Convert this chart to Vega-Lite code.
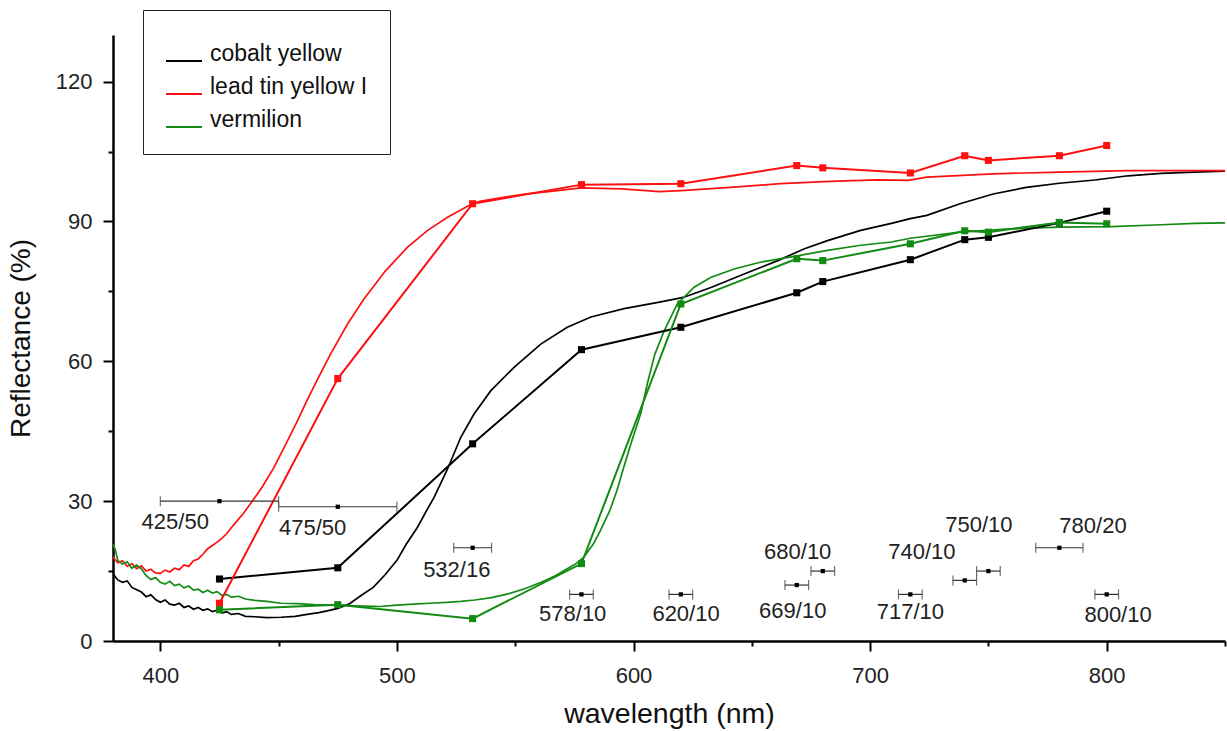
{
  "$schema": "https://vega.github.io/schema/vega-lite/v6.json",
  "autosize": "none",
  "width": 1112,
  "height": 606,
  "padding": {"left": 113, "top": 35, "right": 2, "bottom": 90},
  "background": "white",
  "config": {
    "view": {"stroke": null},
    "font": "Liberation Sans"
  },
  "datasets": {
    "spectra": [
      {"pigment":"cobalt yellow","nm":380,"r":14.4},{"pigment":"cobalt yellow","nm":382,"r":13.1},{"pigment":"cobalt yellow","nm":384,"r":12.6},{"pigment":"cobalt yellow","nm":386,"r":12.9},{"pigment":"cobalt yellow","nm":388,"r":11.5},{"pigment":"cobalt yellow","nm":390,"r":11.0},{"pigment":"cobalt yellow","nm":392,"r":10.5},{"pigment":"cobalt yellow","nm":394,"r":9.5},{"pigment":"cobalt yellow","nm":396,"r":9.9},{"pigment":"cobalt yellow","nm":398,"r":8.9},{"pigment":"cobalt yellow","nm":400,"r":8.3},{"pigment":"cobalt yellow","nm":402,"r":8.8},{"pigment":"cobalt yellow","nm":404,"r":7.9},{"pigment":"cobalt yellow","nm":406,"r":7.7},{"pigment":"cobalt yellow","nm":408,"r":8.1},{"pigment":"cobalt yellow","nm":410,"r":7.2},{"pigment":"cobalt yellow","nm":412,"r":7.5},{"pigment":"cobalt yellow","nm":414,"r":6.8},{"pigment":"cobalt yellow","nm":416,"r":7.2},{"pigment":"cobalt yellow","nm":418,"r":6.6},{"pigment":"cobalt yellow","nm":420,"r":6.9},{"pigment":"cobalt yellow","nm":422,"r":6.3},{"pigment":"cobalt yellow","nm":424,"r":6.6},{"pigment":"cobalt yellow","nm":426,"r":6.0},{"pigment":"cobalt yellow","nm":428,"r":6.3},{"pigment":"cobalt yellow","nm":430,"r":5.7},{"pigment":"cobalt yellow","nm":433,"r":5.9},{"pigment":"cobalt yellow","nm":436,"r":5.3},{"pigment":"cobalt yellow","nm":440,"r":5.2},{"pigment":"cobalt yellow","nm":445,"r":5.0},{"pigment":"cobalt yellow","nm":451,"r":5.1},{"pigment":"cobalt yellow","nm":457,"r":5.3},{"pigment":"cobalt yellow","nm":462,"r":5.7},{"pigment":"cobalt yellow","nm":467,"r":6.1},{"pigment":"cobalt yellow","nm":471,"r":6.5},{"pigment":"cobalt yellow","nm":475,"r":7.0},{"pigment":"cobalt yellow","nm":480,"r":8.0},{"pigment":"cobalt yellow","nm":485,"r":9.8},{"pigment":"cobalt yellow","nm":490,"r":11.5},{"pigment":"cobalt yellow","nm":495,"r":14.2},{"pigment":"cobalt yellow","nm":500,"r":17.3},{"pigment":"cobalt yellow","nm":504,"r":20.8},{"pigment":"cobalt yellow","nm":508.7,"r":24.4},{"pigment":"cobalt yellow","nm":512,"r":27.5},{"pigment":"cobalt yellow","nm":515.7,"r":30.8},{"pigment":"cobalt yellow","nm":521.4,"r":36.9},{"pigment":"cobalt yellow","nm":527,"r":43.7},{"pigment":"cobalt yellow","nm":532.6,"r":48.7},{"pigment":"cobalt yellow","nm":539.7,"r":53.7},{"pigment":"cobalt yellow","nm":549.5,"r":58.7},{"pigment":"cobalt yellow","nm":560.8,"r":63.7},{"pigment":"cobalt yellow","nm":572,"r":67.3},{"pigment":"cobalt yellow","nm":582,"r":69.5},{"pigment":"cobalt yellow","nm":596,"r":71.3},{"pigment":"cobalt yellow","nm":611,"r":72.7},{"pigment":"cobalt yellow","nm":621,"r":73.7},{"pigment":"cobalt yellow","nm":633,"r":75.9},{"pigment":"cobalt yellow","nm":647,"r":78.8},{"pigment":"cobalt yellow","nm":661,"r":81.6},{"pigment":"cobalt yellow","nm":672,"r":84.1},{"pigment":"cobalt yellow","nm":682,"r":85.9},{"pigment":"cobalt yellow","nm":696,"r":88.1},{"pigment":"cobalt yellow","nm":709,"r":89.6},{"pigment":"cobalt yellow","nm":717,"r":90.6},{"pigment":"cobalt yellow","nm":724,"r":91.3},{"pigment":"cobalt yellow","nm":738,"r":93.8},{"pigment":"cobalt yellow","nm":752,"r":95.9},{"pigment":"cobalt yellow","nm":766,"r":97.3},{"pigment":"cobalt yellow","nm":780,"r":98.2},{"pigment":"cobalt yellow","nm":795,"r":98.9},{"pigment":"cobalt yellow","nm":809,"r":99.8},{"pigment":"cobalt yellow","nm":823,"r":100.3},{"pigment":"cobalt yellow","nm":837,"r":100.6},{"pigment":"cobalt yellow","nm":850,"r":100.8},
      {"pigment":"lead tin yellow I","nm":380,"r":18.0},{"pigment":"lead tin yellow I","nm":382,"r":16.8},{"pigment":"lead tin yellow I","nm":384,"r":17.2},{"pigment":"lead tin yellow I","nm":386,"r":16.0},{"pigment":"lead tin yellow I","nm":388,"r":16.6},{"pigment":"lead tin yellow I","nm":390,"r":15.5},{"pigment":"lead tin yellow I","nm":392,"r":16.1},{"pigment":"lead tin yellow I","nm":394,"r":15.0},{"pigment":"lead tin yellow I","nm":396,"r":15.4},{"pigment":"lead tin yellow I","nm":398,"r":14.6},{"pigment":"lead tin yellow I","nm":400,"r":14.5},{"pigment":"lead tin yellow I","nm":402,"r":15.2},{"pigment":"lead tin yellow I","nm":404,"r":14.8},{"pigment":"lead tin yellow I","nm":406,"r":15.6},{"pigment":"lead tin yellow I","nm":408,"r":15.3},{"pigment":"lead tin yellow I","nm":410,"r":16.3},{"pigment":"lead tin yellow I","nm":412,"r":16.0},{"pigment":"lead tin yellow I","nm":414,"r":17.2},{"pigment":"lead tin yellow I","nm":416,"r":17.6},{"pigment":"lead tin yellow I","nm":418,"r":18.6},{"pigment":"lead tin yellow I","nm":420,"r":19.8},{"pigment":"lead tin yellow I","nm":422,"r":20.5},{"pigment":"lead tin yellow I","nm":424,"r":21.2},{"pigment":"lead tin yellow I","nm":426,"r":22.0},{"pigment":"lead tin yellow I","nm":428,"r":23.0},{"pigment":"lead tin yellow I","nm":430,"r":24.3},{"pigment":"lead tin yellow I","nm":432,"r":25.5},{"pigment":"lead tin yellow I","nm":435,"r":27.3},{"pigment":"lead tin yellow I","nm":439,"r":30.1},{"pigment":"lead tin yellow I","nm":443,"r":33.0},{"pigment":"lead tin yellow I","nm":448,"r":37.2},{"pigment":"lead tin yellow I","nm":453,"r":42.2},{"pigment":"lead tin yellow I","nm":458,"r":47.3},{"pigment":"lead tin yellow I","nm":462,"r":51.6},{"pigment":"lead tin yellow I","nm":466,"r":55.7},{"pigment":"lead tin yellow I","nm":472,"r":61.6},{"pigment":"lead tin yellow I","nm":479,"r":67.9},{"pigment":"lead tin yellow I","nm":486,"r":73.3},{"pigment":"lead tin yellow I","nm":495,"r":79.3},{"pigment":"lead tin yellow I","nm":504.5,"r":84.5},{"pigment":"lead tin yellow I","nm":513,"r":88.1},{"pigment":"lead tin yellow I","nm":521.4,"r":90.9},{"pigment":"lead tin yellow I","nm":531,"r":93.6},{"pigment":"lead tin yellow I","nm":535,"r":94.3},{"pigment":"lead tin yellow I","nm":545,"r":95.2},{"pigment":"lead tin yellow I","nm":555,"r":95.9},{"pigment":"lead tin yellow I","nm":564,"r":96.4},{"pigment":"lead tin yellow I","nm":578,"r":97.2},{"pigment":"lead tin yellow I","nm":595,"r":97.0},{"pigment":"lead tin yellow I","nm":611,"r":96.4},{"pigment":"lead tin yellow I","nm":620,"r":96.6},{"pigment":"lead tin yellow I","nm":641,"r":97.3},{"pigment":"lead tin yellow I","nm":662,"r":98.1},{"pigment":"lead tin yellow I","nm":683,"r":98.6},{"pigment":"lead tin yellow I","nm":703,"r":98.9},{"pigment":"lead tin yellow I","nm":716,"r":98.8},{"pigment":"lead tin yellow I","nm":724,"r":99.5},{"pigment":"lead tin yellow I","nm":752,"r":100.2},{"pigment":"lead tin yellow I","nm":780,"r":100.6},{"pigment":"lead tin yellow I","nm":809,"r":100.9},{"pigment":"lead tin yellow I","nm":837,"r":100.9},{"pigment":"lead tin yellow I","nm":850,"r":100.9},
      {"pigment":"vermilion","nm":380,"r":20.8},{"pigment":"vermilion","nm":381,"r":19.5},{"pigment":"vermilion","nm":382,"r":17.3},{"pigment":"vermilion","nm":384,"r":16.5},{"pigment":"vermilion","nm":386,"r":17.0},{"pigment":"vermilion","nm":388,"r":15.6},{"pigment":"vermilion","nm":390,"r":16.3},{"pigment":"vermilion","nm":392,"r":15.5},{"pigment":"vermilion","nm":394,"r":14.0},{"pigment":"vermilion","nm":396,"r":13.2},{"pigment":"vermilion","nm":398,"r":13.6},{"pigment":"vermilion","nm":400,"r":12.6},{"pigment":"vermilion","nm":402,"r":12.2},{"pigment":"vermilion","nm":404,"r":12.8},{"pigment":"vermilion","nm":406,"r":11.9},{"pigment":"vermilion","nm":408,"r":12.2},{"pigment":"vermilion","nm":410,"r":11.4},{"pigment":"vermilion","nm":412,"r":11.8},{"pigment":"vermilion","nm":414,"r":10.9},{"pigment":"vermilion","nm":416,"r":11.1},{"pigment":"vermilion","nm":418,"r":10.4},{"pigment":"vermilion","nm":420,"r":10.9},{"pigment":"vermilion","nm":422,"r":10.3},{"pigment":"vermilion","nm":424,"r":10.6},{"pigment":"vermilion","nm":426,"r":9.8},{"pigment":"vermilion","nm":428,"r":10.0},{"pigment":"vermilion","nm":430,"r":9.4},{"pigment":"vermilion","nm":433,"r":9.6},{"pigment":"vermilion","nm":436,"r":9.0},{"pigment":"vermilion","nm":440,"r":8.7},{"pigment":"vermilion","nm":445,"r":8.5},{"pigment":"vermilion","nm":451,"r":8.1},{"pigment":"vermilion","nm":458,"r":8.0},{"pigment":"vermilion","nm":465,"r":7.8},{"pigment":"vermilion","nm":472,"r":7.7},{"pigment":"vermilion","nm":479,"r":7.6},{"pigment":"vermilion","nm":486,"r":7.5},{"pigment":"vermilion","nm":493,"r":7.4},{"pigment":"vermilion","nm":500,"r":7.7},{"pigment":"vermilion","nm":507,"r":7.9},{"pigment":"vermilion","nm":514,"r":8.1},{"pigment":"vermilion","nm":521,"r":8.3},{"pigment":"vermilion","nm":527,"r":8.5},{"pigment":"vermilion","nm":533,"r":8.8},{"pigment":"vermilion","nm":540,"r":9.3},{"pigment":"vermilion","nm":547,"r":10.1},{"pigment":"vermilion","nm":554,"r":11.2},{"pigment":"vermilion","nm":561,"r":12.6},{"pigment":"vermilion","nm":567,"r":14.0},{"pigment":"vermilion","nm":572,"r":15.5},{"pigment":"vermilion","nm":576,"r":16.7},{"pigment":"vermilion","nm":579,"r":18.0},{"pigment":"vermilion","nm":583,"r":20.8},{"pigment":"vermilion","nm":586,"r":23.7},{"pigment":"vermilion","nm":590,"r":28.0},{"pigment":"vermilion","nm":593,"r":32.3},{"pigment":"vermilion","nm":596,"r":37.5},{"pigment":"vermilion","nm":599,"r":42.5},{"pigment":"vermilion","nm":603,"r":48.7},{"pigment":"vermilion","nm":606,"r":55.5},{"pigment":"vermilion","nm":609,"r":61.5},{"pigment":"vermilion","nm":613,"r":66.6},{"pigment":"vermilion","nm":618.5,"r":72.3},{"pigment":"vermilion","nm":625.6,"r":75.9},{"pigment":"vermilion","nm":632.6,"r":78.0},{"pigment":"vermilion","nm":642.5,"r":79.8},{"pigment":"vermilion","nm":654,"r":81.3},{"pigment":"vermilion","nm":668,"r":82.5},{"pigment":"vermilion","nm":682,"r":83.8},{"pigment":"vermilion","nm":696,"r":84.9},{"pigment":"vermilion","nm":709,"r":85.6},{"pigment":"vermilion","nm":717,"r":86.4},{"pigment":"vermilion","nm":738,"r":87.7},{"pigment":"vermilion","nm":759,"r":88.4},{"pigment":"vermilion","nm":780,"r":88.8},{"pigment":"vermilion","nm":802,"r":88.9},{"pigment":"vermilion","nm":823,"r":89.3},{"pigment":"vermilion","nm":837,"r":89.6},{"pigment":"vermilion","nm":850,"r":89.7}
    ],
    "filters": [
      {"pigment":"cobalt yellow","nm":425,"r":13.3},{"pigment":"cobalt yellow","nm":475,"r":15.7},{"pigment":"cobalt yellow","nm":532,"r":42.3},{"pigment":"cobalt yellow","nm":578,"r":62.5},{"pigment":"cobalt yellow","nm":620,"r":67.3},{"pigment":"cobalt yellow","nm":669,"r":74.7},{"pigment":"cobalt yellow","nm":680,"r":77.1},{"pigment":"cobalt yellow","nm":717,"r":81.8},{"pigment":"cobalt yellow","nm":740,"r":86.1},{"pigment":"cobalt yellow","nm":750,"r":86.6},{"pigment":"cobalt yellow","nm":780,"r":89.7},{"pigment":"cobalt yellow","nm":800,"r":92.2},
      {"pigment":"lead tin yellow I","nm":425,"r":8.1},{"pigment":"lead tin yellow I","nm":475,"r":56.3},{"pigment":"lead tin yellow I","nm":532,"r":93.8},{"pigment":"lead tin yellow I","nm":578,"r":97.9},{"pigment":"lead tin yellow I","nm":620,"r":98.1},{"pigment":"lead tin yellow I","nm":669,"r":102.0},{"pigment":"lead tin yellow I","nm":680,"r":101.5},{"pigment":"lead tin yellow I","nm":717,"r":100.4},{"pigment":"lead tin yellow I","nm":740,"r":104.1},{"pigment":"lead tin yellow I","nm":750,"r":103.1},{"pigment":"lead tin yellow I","nm":780,"r":104.1},{"pigment":"lead tin yellow I","nm":800,"r":106.3},
      {"pigment":"vermilion","nm":425,"r":6.7},{"pigment":"vermilion","nm":475,"r":7.8},{"pigment":"vermilion","nm":532,"r":4.8},{"pigment":"vermilion","nm":578,"r":16.6},{"pigment":"vermilion","nm":620,"r":72.3},{"pigment":"vermilion","nm":669,"r":82.0},{"pigment":"vermilion","nm":680,"r":81.6},{"pigment":"vermilion","nm":717,"r":85.2},{"pigment":"vermilion","nm":740,"r":88.0},{"pigment":"vermilion","nm":750,"r":87.7},{"pigment":"vermilion","nm":780,"r":89.8},{"pigment":"vermilion","nm":800,"r":89.5}
    ],
    "bands": [
      {"label":"425/50","center":425,"lo":400,"hi":450,"level":30,"label_nm":406.3,"label_r":25.5},
      {"label":"475/50","center":475,"lo":450,"hi":500,"level":28.8,"label_nm":464.4,"label_r":24.3},
      {"label":"532/16","center":532,"lo":524,"hi":540,"level":20,"label_nm":525.3,"label_r":15.3},
      {"label":"578/10","center":578,"lo":573,"hi":583,"level":10,"label_nm":574.3,"label_r":5.8},
      {"label":"620/10","center":620,"lo":615,"hi":625,"level":10,"label_nm":622.2,"label_r":5.8},
      {"label":"669/10","center":669,"lo":664,"hi":674,"level":12,"label_nm":667.3,"label_r":6.5},
      {"label":"680/10","center":680,"lo":675,"hi":685,"level":15,"label_nm":669.4,"label_r":19.0},
      {"label":"717/10","center":717,"lo":712,"hi":722,"level":10,"label_nm":717.0,"label_r":6.3},
      {"label":"740/10","center":740,"lo":735,"hi":745,"level":13,"label_nm":721.9,"label_r":19.0},
      {"label":"750/10","center":750,"lo":745,"hi":755,"level":15,"label_nm":746.0,"label_r":24.8},
      {"label":"780/20","center":780,"lo":770,"hi":790,"level":20,"label_nm":794.2,"label_r":24.6},
      {"label":"800/10","center":800,"lo":795,"hi":805,"level":10,"label_nm":804.8,"label_r":5.5}
    ]
  },
  "layer": [
    {
      "data": {"name": "spectra"},
      "mark": {"type": "line", "strokeWidth": 1.7, "clip": true},
      "encoding": {
        "x": {
          "field": "nm", "type": "quantitative",
          "scale": {"domain": [380, 850], "nice": false, "zero": false},
          "axis": {
            "title": "wavelength (nm)",
            "titleFont": "Liberation Sans", "titleFontSize": 28.5, "titleFontWeight": "normal", "titleColor": "#111", "titlePadding": 13,
            "values": [400, 450, 500, 550, 600, 650, 700, 750, 800, 850],
            "labelExpr": "datum.value % 100 === 0 ? datum.label : ''",
            "labelFont": "Liberation Sans", "labelFontSize": 22, "labelColor": "#222", "labelPadding": 14,
            "domainColor": "black", "domainWidth": 2.5,
            "tickColor": "black", "tickWidth": 2,
            "tickSize": {"condition": {"test": "datum.value % 100 === 0", "value": 10}, "value": 5},
            "grid": false, "labelFlush": false
          }
        },
        "y": {
          "field": "r", "type": "quantitative",
          "scale": {"domain": [0, 130], "nice": false},
          "axis": {
            "title": "Reflectance (%)",
            "titleFont": "Liberation Sans", "titleFontSize": 28, "titleFontWeight": "normal", "titleColor": "#111", "titlePadding": 20,
            "values": [0, 15, 30, 45, 60, 75, 90, 105, 120],
            "labelExpr": "datum.value % 30 === 0 ? datum.label : ''",
            "labelFont": "Liberation Sans", "labelFontSize": 22, "labelColor": "#222", "labelPadding": 11,
            "domainColor": "black", "domainWidth": 2.5,
            "tickColor": "black", "tickWidth": 2,
            "tickSize": {"condition": {"test": "datum.value % 30 === 0", "value": 10}, "value": 5},
            "grid": false, "labelFlush": false
          }
        },
        "color": {
          "field": "pigment", "type": "nominal",
          "scale": {"domain": ["cobalt yellow", "lead tin yellow I", "vermilion"], "range": ["#000000", "#ff1010", "#138a13"]},
          "legend": {
            "orient": "none", "legendX": 30, "legendY": -25,
            "title": " ", "titleFontSize": 5, "titlePadding": 5,
            "symbolType": "stroke", "symbolSize": 1296, "symbolStrokeWidth": 2,
            "labelFont": "Liberation Sans", "labelFontSize": 23, "labelColor": "#111", "labelOffset": 7,
            "labelBaseline": "alphabetic",
            "rowPadding": 9,
            "padding": 22,
            "strokeColor": "#222", "fillColor": "white"
          }
        }
      }
    },
    {
      "data": {"name": "filters"},
      "mark": {"type": "line", "strokeWidth": 2, "point": {"shape": "square", "size": 50, "filled": true, "opacity": 1}},
      "encoding": {
        "x": {"field": "nm", "type": "quantitative"},
        "y": {"field": "r", "type": "quantitative"},
        "color": {"field": "pigment", "type": "nominal"}
      }
    },
    {
      "data": {"name": "bands"},
      "mark": {"type": "rule", "color": "#333", "strokeWidth": 1.2},
      "encoding": {
        "x": {"field": "lo", "type": "quantitative"},
        "x2": {"field": "hi"},
        "y": {"field": "level", "type": "quantitative"}
      }
    },
    {
      "data": {"name": "bands"},
      "mark": {"type": "tick", "orient": "vertical", "color": "#333", "size": 10, "thickness": 1.2},
      "encoding": {
        "x": {"field": "lo", "type": "quantitative"},
        "y": {"field": "level", "type": "quantitative"}
      }
    },
    {
      "data": {"name": "bands"},
      "mark": {"type": "tick", "orient": "vertical", "color": "#333", "size": 10, "thickness": 1.2},
      "encoding": {
        "x": {"field": "hi", "type": "quantitative"},
        "y": {"field": "level", "type": "quantitative"}
      }
    },
    {
      "data": {"name": "bands"},
      "mark": {"type": "point", "shape": "square", "filled": true, "size": 18, "color": "#000", "opacity": 1},
      "encoding": {
        "x": {"field": "center", "type": "quantitative"},
        "y": {"field": "level", "type": "quantitative"}
      }
    },
    {
      "data": {"name": "bands"},
      "mark": {"type": "text", "font": "Liberation Sans", "fontSize": 22, "color": "#222", "align": "center", "baseline": "middle"},
      "encoding": {
        "x": {"field": "label_nm", "type": "quantitative"},
        "y": {"field": "label_r", "type": "quantitative"},
        "text": {"field": "label"}
      }
    }
  ]
}
